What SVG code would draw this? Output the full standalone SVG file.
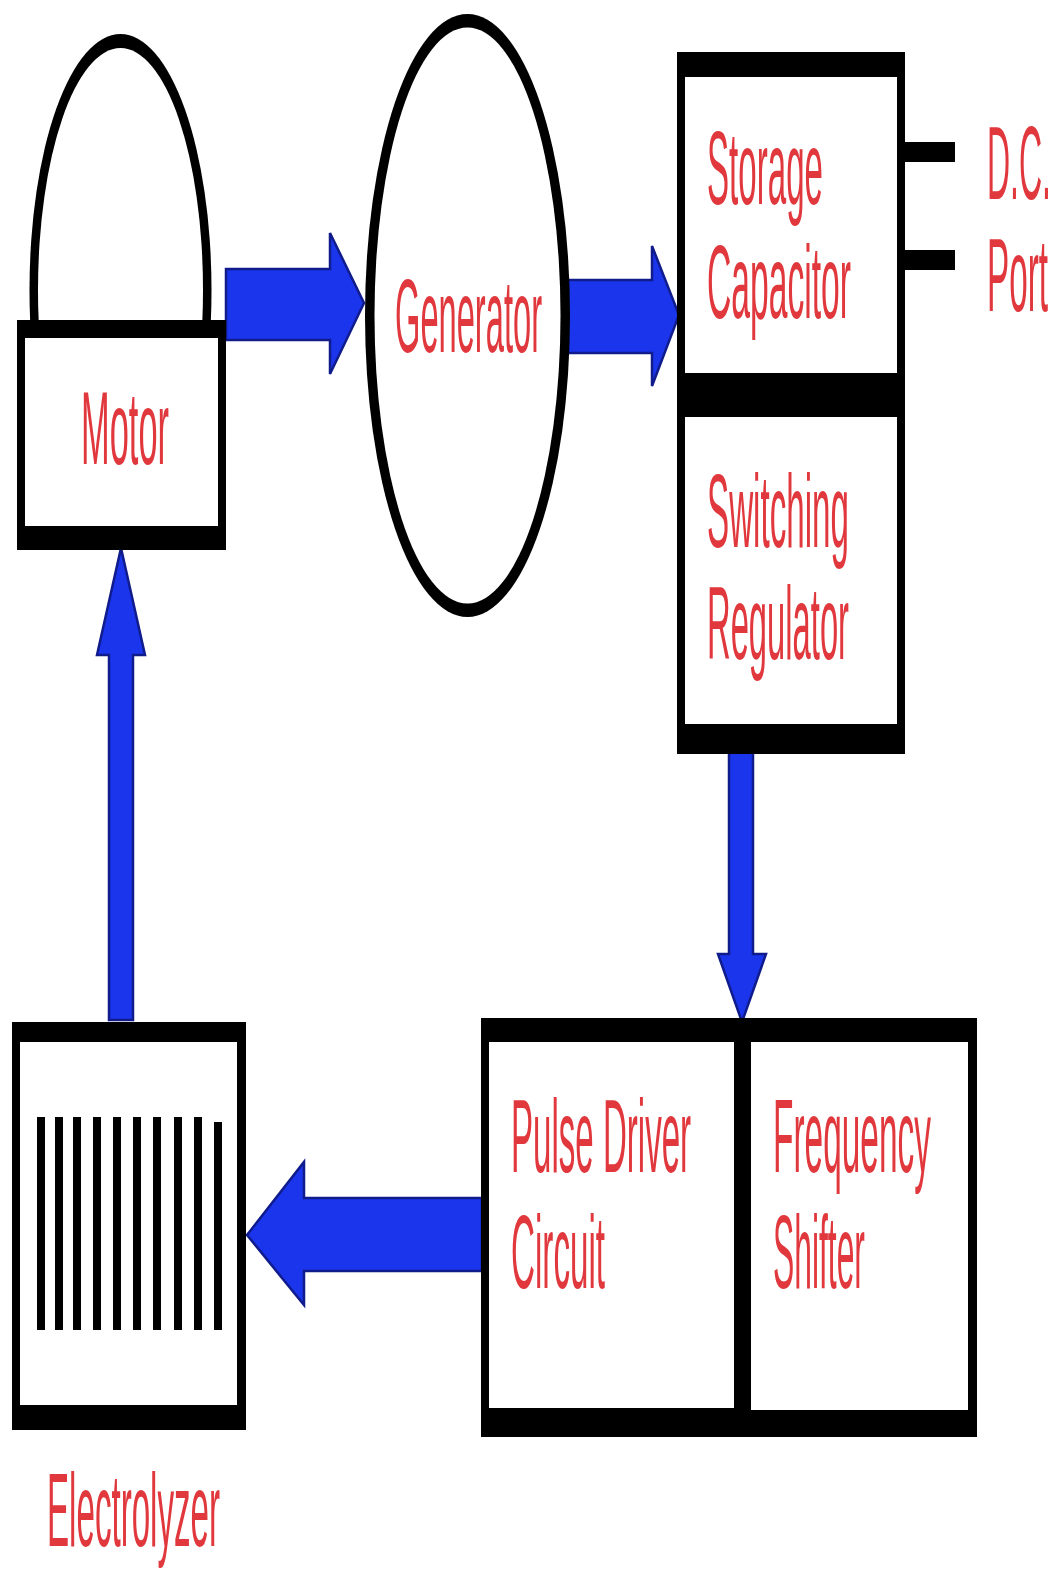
<svg xmlns="http://www.w3.org/2000/svg" width="1059" height="1570" viewBox="0 0 1059 1570">
<style>
.lbl{font-family:"Liberation Sans",Arial,sans-serif;font-size:104px;fill:#e0383d;}
.blk{fill:#000;}
.wht{fill:#fff;}
.arr{fill:#1a35ec;stroke:#101c8c;stroke-width:2.5;stroke-linejoin:miter;}
</style>
<defs>
<clipPath id="domeClip"><rect x="0" y="0" width="260" height="321"/></clipPath>
</defs>
<rect x="0" y="0" width="1059" height="1570" fill="#fff"/>
<g id="connectors">
<polygon class="arr" points="226,269 330,269 330,233 364,303 330,374 330,340 226,340"/>
<polygon class="arr" points="566,280 652,280 652,246 679,315 652,386 652,353 566,353"/>
<polygon class="arr" points="729,752 753,752 753,954 766,954 742,1022 718,954 729,954"/>
<polygon class="arr" points="482,1198 304,1198 304,1162 247,1235 304,1305 304,1271 482,1271"/>
<polygon class="arr" points="109,1020 109,655 97,655 121,548 145,655 133,655 133,1020"/>
</g>
<g id="motor">
<g clip-path="url(#domeClip)">
<ellipse class="blk" cx="120.5" cy="290" rx="91" ry="256"/>
<ellipse class="wht" cx="120.5" cy="290" rx="82.5" ry="242"/>
</g>
<rect class="blk" x="17" y="320" width="209" height="230"/>
<rect class="wht" x="25" y="338" width="193" height="188"/>
<text class="lbl" transform="translate(81,464) scale(0.331,1)">Motor</text>
</g>
<g id="generator">
<ellipse class="blk" cx="467.5" cy="315.5" rx="102.5" ry="301.5"/>
<ellipse class="wht" cx="467.5" cy="315.5" rx="93" ry="288"/>
<text class="lbl" transform="translate(395,352) scale(0.314,1)">Generator</text>
</g>
<g id="storage-capacitor">
<rect class="blk" x="677" y="52" width="228" height="345"/>
<rect class="wht" x="685" y="77" width="212" height="296"/>
<text class="lbl" transform="translate(707,204) scale(0.3185,1)">Storage</text>
<text class="lbl" transform="translate(707,318) scale(0.3236,1)">Capacitor</text>
</g>
<g id="dc-port">
<rect class="blk" x="905" y="142" width="50" height="20"/>
<rect class="blk" x="905" y="250" width="50" height="20"/>
<text class="lbl" transform="translate(987,199) scale(0.3077,1)">D.C.</text>
<text class="lbl" transform="translate(987,311) scale(0.32,1)">Port</text>
</g>
<g id="switching-regulator">
<rect class="blk" x="677" y="395" width="228" height="359"/>
<rect class="wht" x="685" y="417" width="212" height="307"/>
<text class="lbl" transform="translate(707,547) scale(0.319,1)">Switching</text>
<text class="lbl" transform="translate(707,659) scale(0.315,1)">Regulator</text>
</g>
<g id="pulse-driver-circuit">
<rect class="blk" x="481" y="1018" width="262" height="419"/>
<rect class="wht" x="489" y="1042" width="245" height="366"/>
<text class="lbl" transform="translate(511,1172) scale(0.318,1)">Pulse Driver</text>
<text class="lbl" transform="translate(511,1288) scale(0.319,1)">Circuit</text>
</g>
<g id="frequency-shifter">
<rect class="blk" x="742" y="1018" width="235" height="419"/>
<rect class="wht" x="751" y="1042" width="217" height="368"/>
<text class="lbl" transform="translate(773,1172) scale(0.3216,1)">Frequency</text>
<text class="lbl" transform="translate(773,1288) scale(0.306,1)">Shifter</text>
</g>
<g id="electrolyzer">
<rect class="blk" x="12" y="1022" width="234" height="408"/>
<rect class="wht" x="20" y="1042" width="217" height="363"/>
<g class="blk">
<rect x="37" y="1117" width="8" height="213"/>
<rect x="55" y="1117" width="8" height="213"/>
<rect x="73" y="1117" width="8" height="213"/>
<rect x="93" y="1117" width="8" height="213"/>
<rect x="113" y="1117" width="8" height="213"/>
<rect x="133" y="1117" width="8" height="213"/>
<rect x="153" y="1117" width="8" height="213"/>
<rect x="174" y="1117" width="8" height="213"/>
<rect x="194" y="1117" width="8" height="213"/>
<rect x="214" y="1122" width="8" height="208"/>
</g>
<text class="lbl" transform="translate(47,1546) scale(0.3186,1)">Electrolyzer</text>
</g>
</svg>
